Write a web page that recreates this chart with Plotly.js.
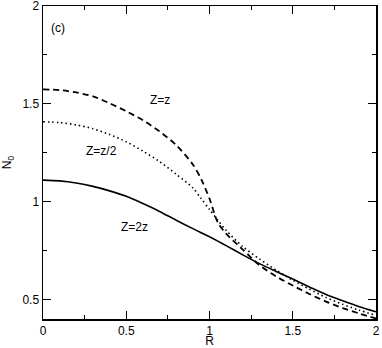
<!DOCTYPE html>
<html>
<head>
<meta charset="utf-8">
<script src="https://cdn.plot.ly/plotly-3.0.1.min.js"></script>
<style>
  html, body { margin: 0; padding: 0; background: #fff; }
  #chart { width: 382px; height: 348px; }
</style>
</head>
<body>
<div id="chart"></div>
<script>
// R values shared by all three curves
const rVals = [0, 0.1, 0.2, 0.3, 0.4, 0.5, 0.6, 0.7, 0.8, 0.9, 0.95, 1.0, 1.05, 1.1, 1.2, 1.3, 1.4, 1.5, 1.6, 1.7, 1.8, 1.9, 2.0];

// Z=z (dashed)
const nZz = [1.574, 1.570, 1.558, 1.538, 1.503, 1.462, 1.416, 1.359, 1.289, 1.19, 1.115, 1.015, 0.893, 0.836, 0.755, 0.675, 0.618, 0.571, 0.528, 0.489, 0.456, 0.428, 0.403];
// Z=z/2 (dotted)
const nZhalf = [1.408, 1.404, 1.392, 1.373, 1.343, 1.306, 1.258, 1.205, 1.14, 1.07, 1.015, 0.96, 0.905, 0.853, 0.77, 0.707, 0.65, 0.598, 0.553, 0.51, 0.475, 0.445, 0.418];
// Z=2z (solid)
const nZ2 = [1.11, 1.106, 1.095, 1.078, 1.055, 1.027, 0.99, 0.95, 0.905, 0.862, 0.841, 0.82, 0.798, 0.775, 0.728, 0.683, 0.643, 0.604, 0.564, 0.525, 0.493, 0.463, 0.437];

const labels = ["Z=z", "Z=z/2", "Z=2z"];

const font = { family: "Liberation Sans, Arial, sans-serif", size: 12, color: "#000" };

const traces = [
  { x: rVals, y: nZz, mode: "lines", name: labels[0],
    line: { color: "#000", width: 1.8, dash: "6px,4px", shape: "spline", smoothing: 0.8 } },
  { x: rVals, y: nZhalf, mode: "lines", name: labels[1],
    line: { color: "#000", width: 1.6, dash: "1.5px,3px", shape: "spline", smoothing: 0.8 } },
  { x: rVals, y: nZ2, mode: "lines", name: labels[2],
    line: { color: "#000", width: 1.6, shape: "spline", smoothing: 0.8 } }
];

const axisCommon = {
  showgrid: false,
  zeroline: false,
  showline: true,
  linecolor: "#000",
  linewidth: 1.5,
  mirror: "ticks",
  ticks: "inside",
  ticklen: 8,
  tickwidth: 1,
  tickcolor: "#000",
  tickfont: font,
  ticklabeloverflow: "allow",
  minor: { ticks: "inside", ticklen: 4, tickwidth: 1, tickcolor: "#000", dtick: 0.25 }
};

const layout = {
  width: 382,
  height: 348,
  margin: { l: 43, r: 6, t: 6, b: 29 },
  paper_bgcolor: "#fff",
  plot_bgcolor: "#fff",
  showlegend: false,
  font: font,
  xaxis: Object.assign({}, axisCommon, {
    range: [0, 2], dtick: 0.5,
    title: { text: "R", font: font, standoff: 5 }
  }),
  yaxis: Object.assign({}, axisCommon, {
    range: [0.4, 2], tick0: 0, dtick: 0.5,
    title: { text: "N<sub>0</sub>", font: font, standoff: 8 }
  }),
  annotations: [
    { x: 0.09, y: 1.89, text: "(c)", showarrow: false, font: font },
    { x: 0.70, y: 1.52, text: labels[0], showarrow: false, font: font },
    { x: 0.35, y: 1.26, text: labels[1], showarrow: false, font: font },
    { x: 0.55, y: 0.87, text: labels[2], showarrow: false, font: font }
  ]
};

Plotly.newPlot("chart", traces, layout, { displayModeBar: false, staticPlot: true });
</script>
</body>
</html>
